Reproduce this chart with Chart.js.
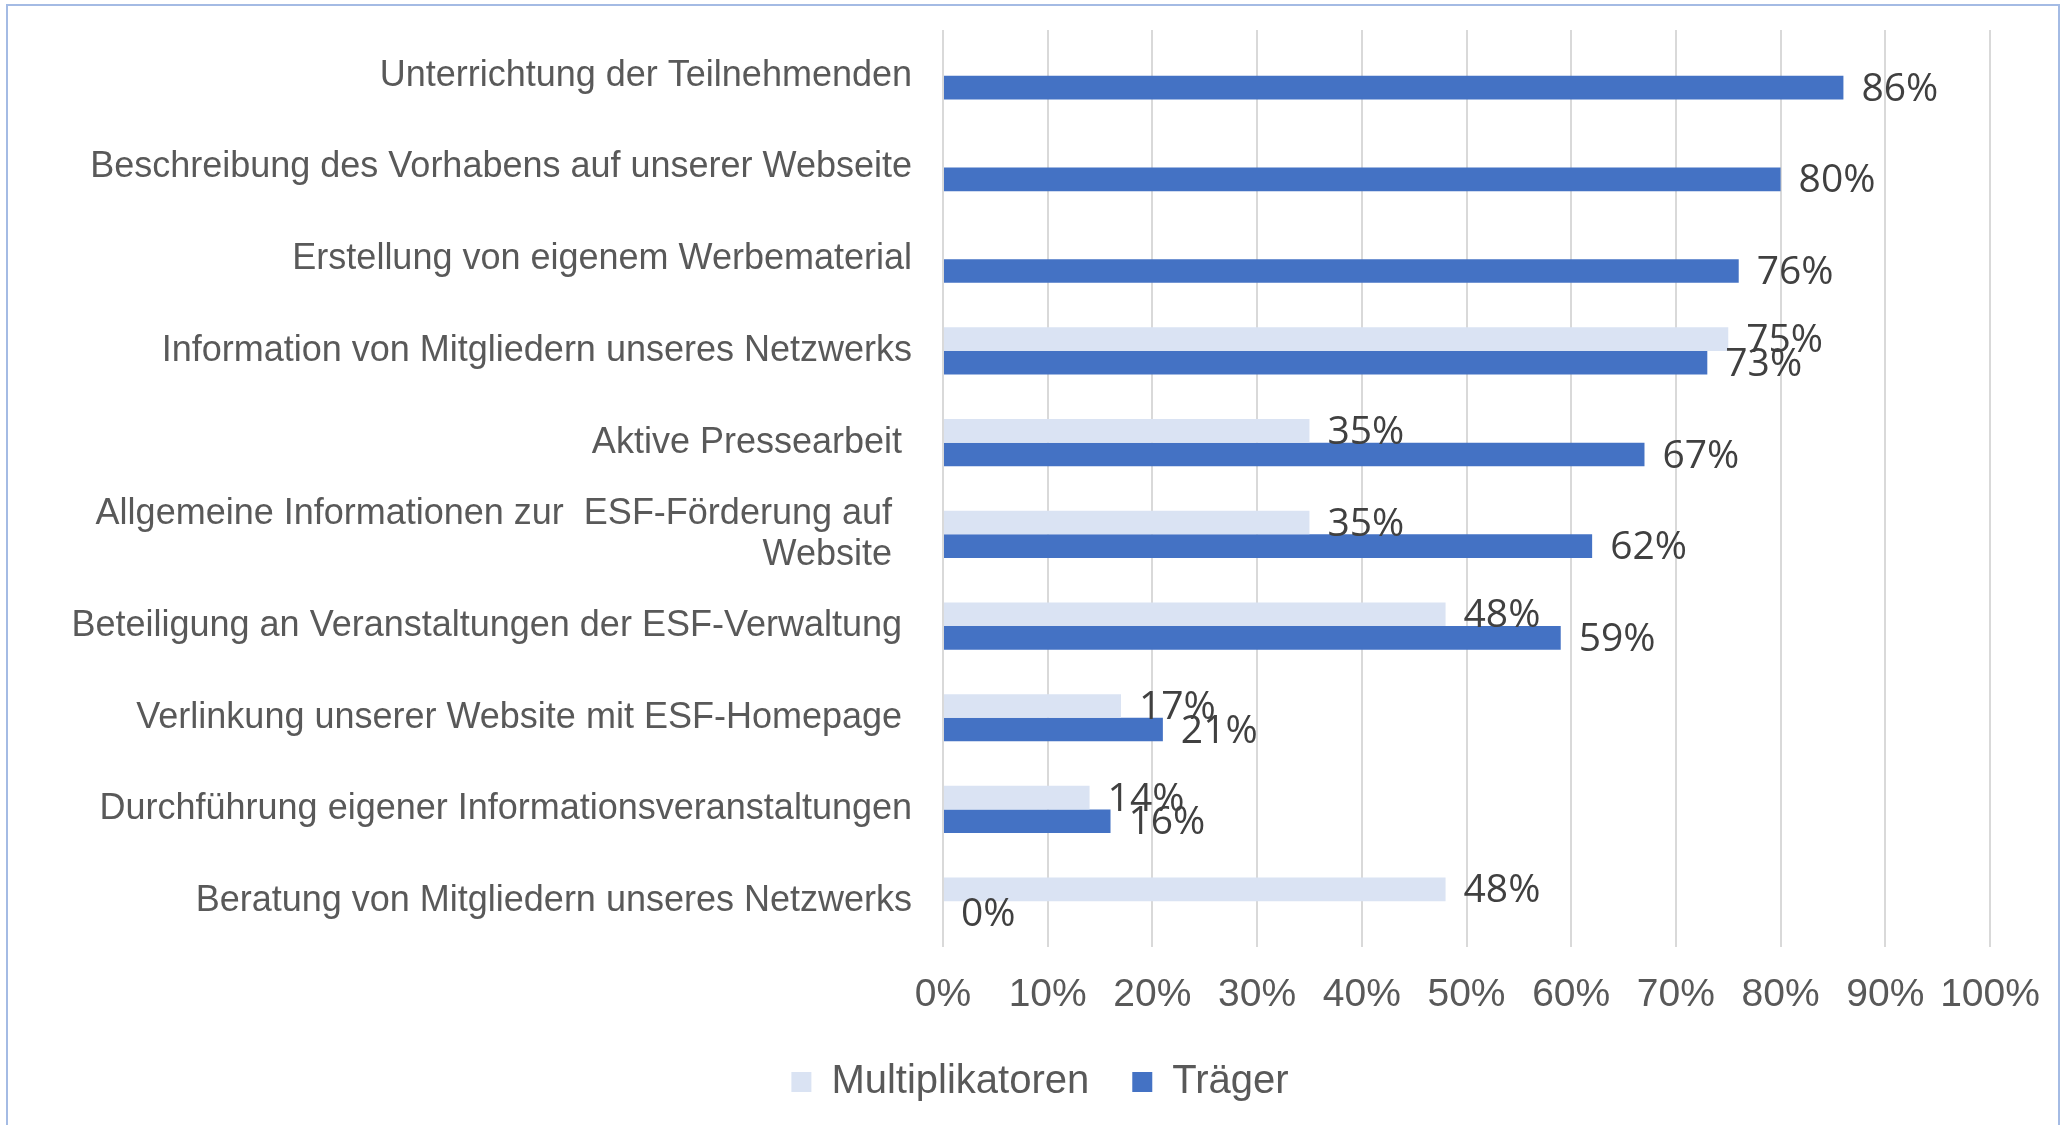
<!DOCTYPE html>
<html>
<head>
<meta charset="utf-8">
<script src="https://cdn.jsdelivr.net/npm/chart.js"></script>
<style>
  html, body { margin:0; padding:0; background:#fff; overflow:hidden; }
  canvas { display:block; }
</style>
</head>
<body>
<canvas id="massnahmenChart" width="2065" height="1125"></canvas>
<script>
// Kategorien (Leerzeichen am Ende wie im Original)
const categories = [
    'Unterrichtung der Teilnehmenden',
    'Beschreibung des Vorhabens auf unserer Webseite',
    'Erstellung von eigenem Werbematerial',
    'Information von Mitgliedern unseres Netzwerks',
    'Aktive Pressearbeit ',
    ['Allgemeine Informationen zur  ESF-Förderung auf  ', 'Website  '],
    'Beteiligung an Veranstaltungen der ESF-Verwaltung ',
    'Verlinkung unserer Website mit ESF-Homepage ',
    'Durchführung eigener Informationsveranstaltungen',
    'Beratung von Mitgliedern unseres Netzwerks'
];

const multiplikatoren = [null, null, null, 75, 35, 35, 48, 17, 14, 48];
const traeger = [86, 80, 76, 73, 67, 62, 59, 21, 16, 0];

const xTicks = [0, 10, 20, 30, 40, 50, 60, 70, 80, 90, 100];

// Rahmen um das Diagramm
const framePlugin = {
    id:'frame',
    beforeDraw(chart){
        const ctx = chart.ctx;
        ctx.save();
        ctx.fillStyle = '#ffffff';
        ctx.fillRect(0, 0, chart.width, chart.height);
        ctx.strokeStyle = '#a4bbe4';
        ctx.lineWidth = 2;
        ctx.strokeRect(7, 5, 2052, 1200);
        ctx.restore();
    },
    // y-Beschriftungen nicht am linken Rand abschneiden
    afterLayout(chart){
        chart.scales.y.left = 0;
    }
};

// Prozentwerte hinter den Balken
const valueLabels = {
    id:'valueLabels',
    afterDatasetsDraw(chart){
        const ctx = chart.ctx;
        ctx.save();
        ctx.font = '39px "Open Sans"';
        ctx.fillStyle = '#404040';
        ctx.textAlign = 'left';
        ctx.textBaseline = 'middle';
        chart.data.datasets.forEach(function(ds, i){
            const meta = chart.getDatasetMeta(i);
            meta.data.forEach(function(bar, j){
                const v = ds.data[j];
                if (v === null || v === undefined) return;
                ctx.fillText(v + '%', bar.x + 18, bar.y + 2);
            });
        });
        ctx.restore();
    }
};

const chart = new Chart(document.getElementById('massnahmenChart'), {
    type:'bar',
    data:{
        labels:categories,
        datasets:[{
            label:'Multiplikatoren',
            data:multiplikatoren,
            backgroundColor:'#dae3f3',
            borderWidth:0,
            categoryPercentage:0.515,
            barPercentage:1.0
        },{
            label:'Träger',
            data:traeger,
            backgroundColor:'#4472c4',
            borderWidth:0,
            categoryPercentage:0.515,
            barPercentage:1.0
        }]
    },
    options:{
        indexAxis:'y',
        responsive:false,
        animation:false,
        devicePixelRatio:1,
        layout:{
            padding:{ top:30, left:90, right:75, bottom:13 }
        },
        scales:{
            x:{
                min:0,
                max:100,
                afterBuildTicks(scale){
                    scale.ticks = xTicks.map(v => ({ value:v }));
                },
                afterFit(scale){
                    scale.height = 72;
                    scale.paddingLeft = 0;
                    scale.paddingRight = 0;
                },
                grid:{
                    color:'#d9d9d9',
                    lineWidth:2,
                    drawTicks:false
                },
                border:{ display:false },
                ticks:{
                    padding:25,
                    color:'#595959',
                    font:{ family:'"Liberation Sans", Arial', size:39 },
                    maxRotation:0,
                    callback:function(v){ return v + '%'; }
                }
            },
            y:{
                afterFit(scale){
                    scale.width = 853;
                    scale.paddingTop = 0;
                    scale.paddingBottom = 0;
                },
                grid:{ display:false, drawTicks:false },
                border:{ display:false },
                ticks:{
                    padding:31,
                    color:'#595959',
                    autoSkip:false,
                    font:{ family:'"Liberation Sans", Arial', size:36, lineHeight:1.15 }
                }
            }
        },
        plugins:{
            legend:{
                position:'bottom',
                labels:{
                    boxWidth:20,
                    boxHeight:20,
                    padding:43,
                    color:'#595959',
                    font:{ family:'"Liberation Sans", Arial', size:40 }
                }
            },
            tooltip:{ enabled:false }
        }
    },
    plugins:[framePlugin, valueLabels]
});
</script>
</body>
</html>
